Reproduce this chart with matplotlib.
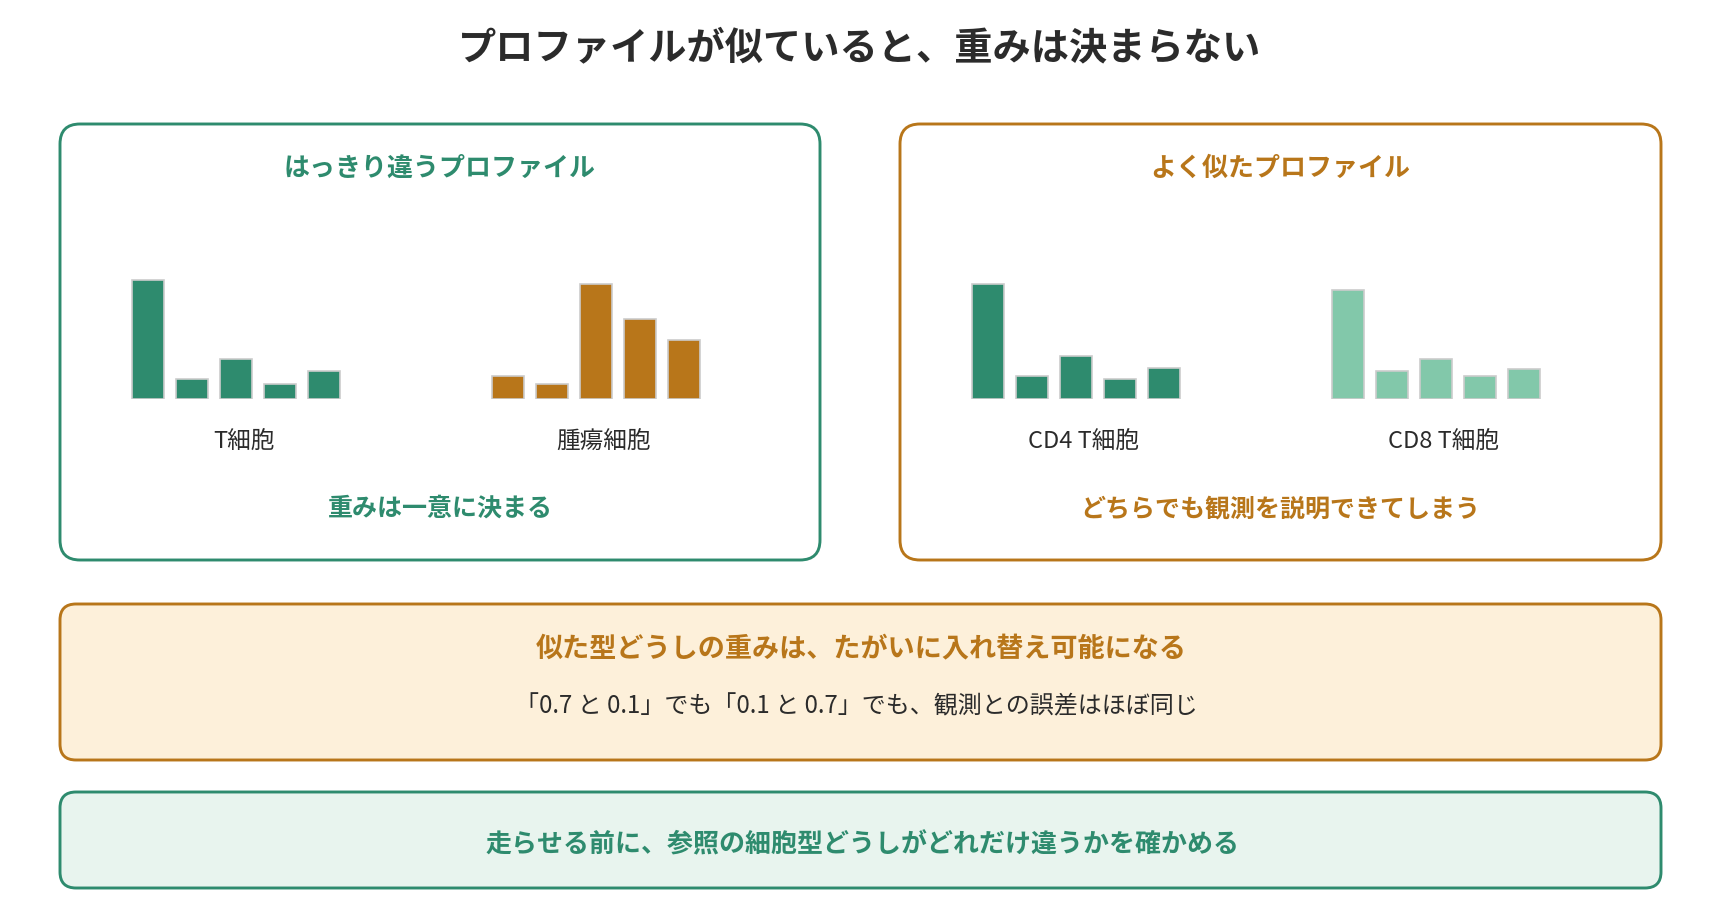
import matplotlib
matplotlib.use("Agg")
import matplotlib.pyplot as plt
from matplotlib.patches import FancyBboxPatch

plt.rcParams['font.family'] = ['Noto Sans CJK JP', 'DejaVu Sans']

# data
title = "プロファイルが似ていると、重みは決まらない"
left_title = "はっきり違うプロファイル"
right_title = "よく似たプロファイル"
left_note = "重みは一意に決まる"
right_note = "どちらでも観測を説明できてしまう"
swap_title = "似た型どうしの重みは、たがいに入れ替え可能になる"
swap_text = "「0.7 と 0.1」でも「0.1 と 0.7」でも、観測との誤差はほぼ同じ"
advice = "走らせる前に、参照の細胞型どうしがどれだけ違うかを確かめる"

groups = ["T細胞", "腫瘍細胞", "CD4 T細胞", "CD8 T細胞"]
t_cell = [0.595, 0.10, 0.20, 0.075, 0.14]
tumor = [0.115, 0.075, 0.575, 0.40, 0.295]
cd4 = [0.575, 0.115, 0.215, 0.10, 0.155]
cd8 = [0.545, 0.14, 0.20, 0.115, 0.15]
profiles = [t_cell, tumor, cd4, cd8]

GREEN = "#2e8b6e"
ORANGE = "#b8761a"
LIGHT = "#82c8aa"
bar_colors = [GREEN, ORANGE, GREEN, LIGHT]

W, H = 1720, 912
fig = plt.figure(figsize=(W / 100, H / 100), dpi=100)
bg = fig.add_axes([0, 0, 1, 1])
bg.set_xlim(0, W)
bg.set_ylim(H, 0)
bg.axis("off")


def box(x0, y0, x1, y1, edge, face="white", r=20):
    p = FancyBboxPatch((x0, y0), x1 - x0, y1 - y0,
                       boxstyle=f"round,pad=0,rounding_size={r}",
                       linewidth=2.1, edgecolor=edge, facecolor=face)
    bg.add_patch(p)


bg.text(860, 48, title, ha="center", va="center", fontsize=27.5,
        fontweight="bold", color="#2b2b2b")

# two comparison panels
box(60, 125, 820, 561, GREEN)
box(900, 125, 1661, 561, ORANGE)
bg.text(440, 168, left_title, ha="center", va="center", fontsize=18.7,
        fontweight="bold", color=GREEN)
bg.text(1280, 168, right_title, ha="center", va="center", fontsize=18.7,
        fontweight="bold", color=ORANGE)
bg.text(440, 509, left_note, ha="center", va="center", fontsize=18,
        fontweight="bold", color=GREEN)
bg.text(1280, 509, right_note, ha="center", va="center", fontsize=18,
        fontweight="bold", color=ORANGE)

# mini bar charts (200 px per unit)
group_left = [126, 486, 966, 1326]
base = 400
for gx, name, vals, col in zip(group_left, groups, profiles, bar_colors):
    ax = fig.add_axes([gx / W, (H - base) / H, 220 / W, 140 / H])
    ax.bar(range(len(vals)), vals, width=32 / 44, color=col,
           edgecolor="#cccccc", linewidth=1.2)
    ax.set_xlim(-0.5, len(vals) - 0.5)
    ax.set_ylim(0, 0.7)
    ax.axis("off")
    bg.text(gx + 118, 442, name, ha="center", va="center", fontsize=17,
            color="#2b2b2b")

# swap box
box(60, 605, 1661, 761, ORANGE, face="#fdf0da", r=16)
bg.text(861, 649, swap_title, ha="center", va="center", fontsize=19.5,
        fontweight="bold", color=ORANGE)
bg.text(856, 706, swap_text, ha="center", va="center", fontsize=17.3,
        color="#2b2b2b")

# advice box
box(60, 793, 1661, 889, GREEN, face="#e8f4ee", r=16)
bg.text(862, 845, advice, ha="center", va="center", fontsize=18.7,
        fontweight="bold", color=GREEN)

fig.savefig("out.png", dpi=100)
